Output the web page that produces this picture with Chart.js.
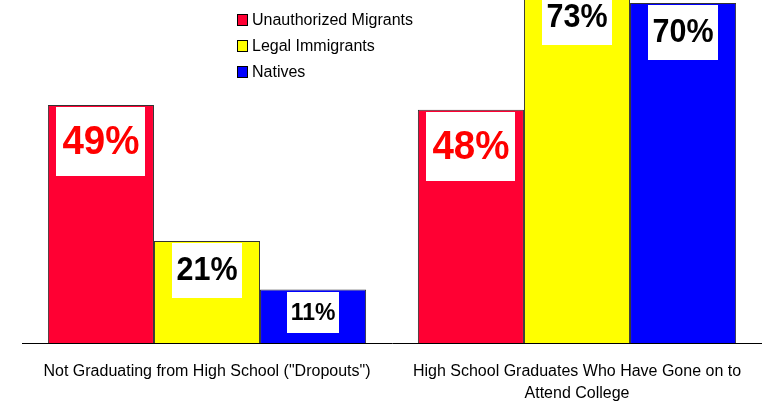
<!DOCTYPE html>
<html>
<head>
<meta charset="utf-8">
<script src="https://cdn.jsdelivr.net/npm/chart.js@4"></script>
<style>
  html, body { margin: 0; padding: 0; background: #fff; }
  #wrap { width: 762px; height: 402px; }
</style>
</head>
<body>
<div id="wrap"><canvas id="chart" width="762" height="402"></canvas></div>
<script>
const categories = [
  'Not Graduating from High School ("Dropouts")',
  ["High School Graduates Who Have Gone on to", "Attend College"]
];
const seriesNames = ["Unauthorized Migrants", "Legal Immigrants", "Natives"];
const unauthorized = [49, 48];
const legal = [21, 73];
const natives = [11, 70];

const colors = ["#FF0033", "#FFFF00", "#0000FF"];
const labelColors = ["#FF0000", "#000000", "#000000"];
// label font size per bar (dataset -> category)
const labelSizes = [[38.5, 38.5], [30.5, 30.5], [23, 30.5]];

const FONT = "'Liberation Sans', Arial, sans-serif";

const valueBoxes = {
  id: "valueBoxes",
  afterDatasetsDraw(chart) {
    const ctx = chart.ctx;
    ctx.save();
    chart.data.datasets.forEach((ds, di) => {
      const meta = chart.getDatasetMeta(di);
      meta.data.forEach((bar, i) => {
        const size = labelSizes[di][i];
        const text = ds.data[i] + "%";
        ctx.font = "bold " + size + "px " + FONT;
        const w = Math.round(ctx.measureText(text).width + size * 0.3);
        const h = Math.round(size * 1.8);
        const top = Math.round(bar.y + 2);
        const left = Math.round(bar.x - w / 2);
        ctx.fillStyle = "#fff";
        ctx.fillRect(left, top, w, h);
        ctx.fillStyle = labelColors[di];
        ctx.textAlign = "center";
        ctx.textBaseline = "middle";
        ctx.save();
        ctx.translate(bar.x, top + h / 2 + 1);
        ctx.scale(1, 1.06);
        ctx.fillText(text, 0, 0);
        ctx.restore();
      });
    });
    ctx.restore();
  }
};

const sideLegend = {
  id: "sideLegend",
  afterDraw(chart) {
    const ctx = chart.ctx;
    const rows = [19.5, 45.5, 71.5];
    ctx.save();
    ctx.font = "16px " + FONT;
    ctx.textBaseline = "middle";
    ctx.textAlign = "left";
    seriesNames.forEach((name, i) => {
      ctx.fillStyle = colors[i];
      ctx.fillRect(237, rows[i] - 5.5, 10, 11);
      ctx.strokeStyle = "#000";
      ctx.lineWidth = 1;
      ctx.strokeRect(237.5, rows[i] - 5, 10, 11);
      ctx.fillStyle = "#000";
      ctx.fillText(name, 252, rows[i] + 1);
    });
    ctx.restore();
  }
};

new Chart(document.getElementById("chart"), {
  type: "bar",
  data: {
    labels: categories,
    datasets: [unauthorized, legal, natives].map((d, i) => ({
      label: seriesNames[i],
      data: d,
      backgroundColor: colors[i],
      borderColor: "#333",
      borderWidth: 1,
      borderSkipped: "bottom",
      barPercentage: 1,
      categoryPercentage: 0.86
    }))
  },
  options: {
    responsive: false,
    animation: false,
    layout: { padding: { left: 22, right: -2, top: 0, bottom: 0 } },
    plugins: { legend: { display: false }, tooltip: { enabled: false } },
    scales: {
      y: { display: false, min: 0, max: 70.6 },
      x: {
        grid: { display: false, drawTicks: false },
        border: { display: true, color: "#000", width: 1 },
        ticks: {
          color: "#000",
          font: { family: FONT, size: 16, lineHeight: 1.375 },
          padding: 18,
          maxRotation: 0,
          autoSkip: false
        },
        afterFit(scale) { scale.height = 59; }
      }
    }
  },
  plugins: [valueBoxes, sideLegend]
});
</script>
</body>
</html>
